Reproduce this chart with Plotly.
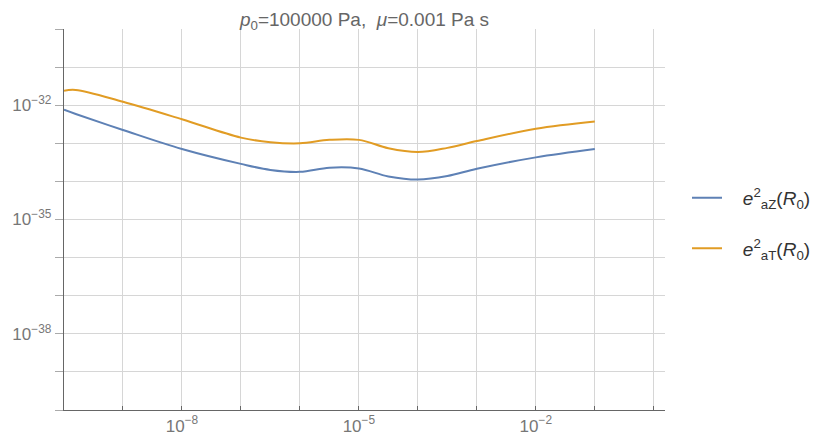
import plotly.graph_objects as go

# R0 values (x) and the two series (y)
r0 = [1e-10, 1.58e-10, 1e-9, 1e-8, 1e-7, 3.16e-7, 1e-6, 3.16e-6, 1e-5,
      3.16e-5, 1e-4, 3.16e-4, 1e-3, 1e-2, 1e-1]
e_aZ = [7.59e-33, 5.89e-33, 2.24e-33, 7.08e-34, 2.88e-34, 2.00e-34, 1.78e-34, 2.29e-34,
        2.19e-34, 1.35e-34, 1.12e-34, 1.38e-34, 2.14e-34, 4.27e-34, 7.08e-34]
e_aT = [2.40e-32, 2.51e-32, 1.23e-32, 4.27e-33, 1.41e-33, 1.07e-33, 1.00e-33, 1.23e-33,
        1.23e-33, 7.41e-34, 5.89e-34, 7.59e-34, 1.15e-33, 2.40e-33, 3.72e-33]

x_tick_vals = [10.0 ** k for k in range(-10, 1)]
x_tick_text = ["", "", "10<sup>−8</sup>", "", "", "10<sup>−5</sup>", "", "", "10<sup>−2</sup>", "", ""]
y_tick_vals = [10.0 ** k for k in range(-40, -29)]
y_tick_text = ["", "", "10<sup>−38</sup>", "", "", "10<sup>−35</sup>", "", "", "10<sup>−32</sup>", "", ""]

names = ["&nbsp;&nbsp;&nbsp;<i>e</i><sup>2</sup><sub>aZ</sub>(<i>R</i><sub>0</sub>)",
         "&nbsp;&nbsp;&nbsp;<i>e</i><sup>2</sup><sub>aT</sub>(<i>R</i><sub>0</sub>)"]
colors = ["#5E81B5", "#E19C24"]

fig = go.Figure()
for i, (ys, nm, c) in enumerate(zip([e_aZ, e_aT], names, colors)):
    fig.add_trace(go.Scatter(x=r0, y=ys, mode="lines", name=nm, legendgroup=f"g{i}",
                             line=dict(color=c, width=2, shape="spline", smoothing=1.0)))

# page body has an 8px default margin; compensate so the plot lands where it should
W, H = 811, 436
L, T, PW, PH = 56, 21, 601, 381
font_family = "Liberation Sans, Arial, sans-serif"
fig.update_layout(
    width=W, height=H,
    margin=dict(l=L, r=W - L - PW, t=T, b=H - T - PH, autoexpand=False),
    paper_bgcolor="white", plot_bgcolor="white",
    font=dict(family=font_family, color="#666666", size=16),
    title=dict(text="<i>p</i><sub>0</sub>=100000 Pa,  <i>μ</i>=0.001 Pa s",
               x=(L + PW / 2) / W, xanchor="center", y=0.99, yanchor="top",
               font=dict(size=19, color="#666666")),
    legend=dict(x=(687 - 8 - L) / PW, y=0.49, xanchor="left", yanchor="middle",
                font=dict(size=19, color="#333333"), tracegroupgap=23,
                itemwidth=30, bgcolor="rgba(0,0,0,0)"),
    showlegend=True,
)
fig.update_xaxes(type="log", range=[-10, 0.19], tickvals=x_tick_vals, ticktext=x_tick_text,
                 showgrid=True, gridcolor="#d6d6d6", gridwidth=1, automargin=False,
                 showline=True, linecolor="#666666", linewidth=1.3,
                 ticks="inside", ticklen=4, tickcolor="#666666", zeroline=False,
                 tickfont=dict(size=17, color="#777777"))
fig.update_yaxes(type="log", range=[-40, -30], tickvals=y_tick_vals, ticktext=y_tick_text,
                 showgrid=True, gridcolor="#d6d6d6", gridwidth=1, automargin=False,
                 showline=True, linecolor="#666666", linewidth=1.3,
                 ticks="outside", ticklen=8, tickcolor="#aaaaaa", zeroline=False,
                 tickfont=dict(size=17, color="#777777"))

fig.write_html("out.html")
